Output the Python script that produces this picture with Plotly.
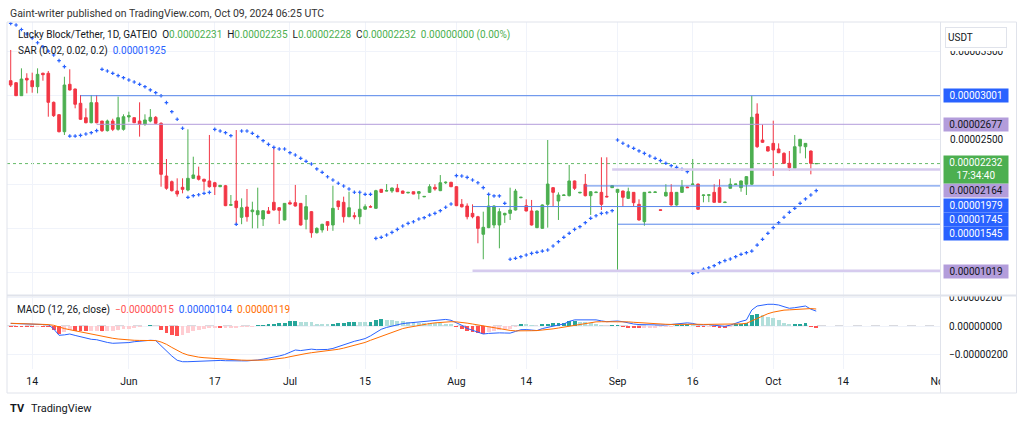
import plotly.graph_objects as go
import pandas as pd

U = 1e-8  # values below are stored in units of 0.00000001 USDT

# ---------------- categories ----------------
MISSING_DAYS = ["2024-08-24", "2024-09-08"]
DATES = [d.strftime("%Y-%m-%d") for d in pd.date_range("2024-05-10", "2024-10-09")
         if d.strftime("%Y-%m-%d") not in MISSING_DAYS]

# ---------------- OHLC (1e-8 USDT) ----------------
OPEN = [3171, 3148, 3001, 3198, 3171, 3103, 3255, 3255, 2926, 2786,
        2593, 3130, 3077, 2915, 2752, 2695, 2922, 2714, 2605, 2714,
        2620, 2620, 2760, 2752, 2714, 2677, 2714, 2756, 2688, 2091,
        2027, 1921, 1963, 1932, 2065, 2091, 2054, 2035, 2015, 1970,
        1981, 1760, 1808, 1623, 1740, 1687, 1653, 1604, 1695, 1793,
        1732, 1593, 1789, 1789, 1781, 1600, 1687, 1449, 1480, 1574,
        1536, 1808, 1793, 1630, 1642, 1630, 1715, 1744, 1725, 1940,
        1921, 1921, 1952, 1921, 1900, 1913, 1895, 1855, 1906, 1963,
        1925, 2015, 2020, 1970, 1770, 1751, 1668, 1630, 1431, 1506,
        1536, 1536, 1650, 1668, 1706, 1845, 1755, 1695, 1506, 1498,
        1770, 1959, 1808, 1870, 1868, 2035, 1900, 1997, 1868, 1903,
        1906, 1861, 1959, 1906, 1921, 1838, 1906, 1770, 1574, 1903,
        1905, 1708, 1865, 1906, 1763, 1906, 1966, 1995, 2000, 1870,
        1872, 1906, 1959, 1790, 1952, 1995, 1959, 1998, 1998, 2794,
        2499, 2423, 2461, 2397, 2348, 2235, 2178, 2430, 2423, 2374,
        2231]
HIGH = [3519, 3156, 3311, 3255, 3262, 3311, 3262, 3281, 2935, 2790,
        3216, 3300, 3080, 3009, 2858, 3009, 3009, 2714, 2730, 2740,
        2990, 2790, 2820, 2755, 2926, 2790, 2850, 2770, 2700, 2284,
        2040, 2065, 2065, 2620, 2310, 2197, 2060, 2556, 2025, 1990,
        1990, 1876, 2612, 1838, 1944, 1800, 1959, 1700, 1740, 2416,
        1740, 1785, 1815, 1990, 1785, 1876, 1695, 1510, 1550, 1574,
        1981, 1810, 1857, 1913, 1680, 1895, 1770, 1760, 1935, 1945,
        2000, 1960, 2000, 1925, 1910, 1913, 1920, 1862, 1998, 1998,
        2102, 2030, 2025, 1975, 1830, 1781, 1770, 1640, 1687, 1887,
        1760, 1725, 1675, 1959, 1945, 1855, 1827, 1820, 1700, 1770,
        2499, 1965, 1906, 1880, 2216, 2040, 1910, 2114, 1920, 1913,
        2303, 2303, 1985, 1945, 1925, 1959, 1910, 1827, 1910, 1913,
        1915, 1710, 1998, 1998, 1910, 2046, 1970, 2284, 2005, 1880,
        1880, 1998, 2054, 1798, 2065, 2003, 2040, 2090, 3001, 2915,
        2677, 2430, 2718, 2461, 2360, 2374, 2556, 2510, 2465, 2380,
        2235]
LOW = [3100, 2998, 2998, 3028, 3035, 3028, 3171, 2763, 2760, 2585,
       2556, 3060, 2858, 2726, 2688, 2688, 2688, 2590, 2595, 2600,
       2605, 2605, 2705, 2690, 2537, 2660, 2700, 2680, 1970, 1935,
       1915, 1857, 1895, 1918, 2060, 2040, 1925, 1960, 1876, 1965,
       1750, 1755, 1544, 1545, 1574, 1498, 1498, 1525, 1660, 1700,
       1547, 1590, 1770, 1745, 1530, 1487, 1392, 1440, 1450, 1470,
       1470, 1706, 1563, 1625, 1600, 1545, 1710, 1735, 1720, 1900,
       1918, 1900, 1910, 1890, 1895, 1885, 1827, 1852, 1900, 1925,
       1920, 2000, 1965, 1750, 1735, 1600, 1612, 1329, 1148, 1500,
       1500, 1272, 1560, 1593, 1700, 1840, 1690, 1530, 1500, 1495,
       1506, 1751, 1593, 1865, 1860, 1933, 1895, 1860, 1650, 1900,
       1706, 1850, 1955, 1019, 1743, 1830, 1743, 1585, 1528, 1900,
       1900, 1700, 1860, 1755, 1755, 1900, 1955, 1995, 1710, 1793,
       1795, 1790, 1790, 1788, 1950, 1993, 1913, 1876, 1990, 2410,
       2465, 2370, 2091, 2350, 2230, 2148, 2170, 2348, 2291, 2110,
       2228]
CLOSE = [3122, 3001, 3190, 3179, 3103, 3243, 3239, 2926, 2775, 2593,
         3122, 3066, 2904, 2734, 2695, 2922, 2695, 2605, 2714, 2620,
         2752, 2763, 2775, 2695, 2677, 2726, 2756, 2688, 2110, 1952,
         1925, 1887, 1940, 2065, 2103, 2054, 2031, 1970, 1970, 1985,
         1755, 1766, 1732, 1732, 1630, 1706, 1698, 1698, 1668, 1706,
         1702, 1781, 1774, 1751, 1536, 1744, 1449, 1498, 1544, 1532,
         1725, 1744, 1630, 1732, 1630, 1715, 1744, 1740, 1925, 1906,
         1925, 1955, 1913, 1895, 1906, 1887, 1913, 1860, 1970, 1944,
         2015, 2020, 1970, 1755, 1742, 1630, 1630, 1498, 1510, 1751,
         1751, 1687, 1668, 1706, 1921, 1850, 1695, 1536, 1695, 1763,
         2000, 1906, 1876, 1876, 2035, 1952, 1906, 1868, 1913, 1908,
         1770, 1855, 1982, 1940, 1850, 1913, 1789, 1593, 1906, 1908,
         1910, 1703, 1906, 1763, 1906, 1970, 1959, 2000, 1714, 1876,
         1878, 1793, 1793, 1795, 1998, 2000, 2035, 2084, 2756, 2423,
         2473, 2374, 2386, 2355, 2235, 2185, 2423, 2507, 2461, 2235,
         2232]

# ---------------- Parabolic SAR (1e-8 USDT) ----------------
SAR = [3820, 3802, 3751, 3700, 3655, 3601, 3556, 3507, 3462, 3398,
       3330, 2544, 2544, 2552, 2567, 2582, 2605, 3300, 3281, 3255,
       3228, 3205, 3179, 3156, 3130, 3103, 3066, 3035, 3001, 2922,
       2820, 2734, 2632, 1850, 1868, 1879, 1895, 1906, 2620, 2601,
       2582, 2548, 1544, 2601, 2601, 2575, 2537, 2491, 2450, 2416,
       2397, 2397, 2355, 2329, 2292, 2258, 2227, 2171, 2133, 2083,
       2046, 2009, 1978, 1944, 1907, 1907, 1884, 1884, 1385, 1397,
       1423, 1453, 1487, 1525, 1555, 1573, 1604, 1619, 1649, 1668,
       1698, 1737, 1774, 2095, 2091, 2076, 2046, 2015, 1959, 1884,
       1865, 1865, 1782, 1148, 1159, 1177, 1196, 1215, 1227, 1241,
       1253, 1298, 1347, 1397, 1442, 1487, 1517, 1562, 1612, 1641,
       1668, 1675, 1698, 2499, 2462, 2431, 2405, 2375, 2348, 2318,
       2292, 2265, 2235, 2208, 2190, 2167, 2140, 989, 1007, 1034,
       1052, 1075, 1109, 1132, 1151, 1177, 1204, 1222, 1241, 1309,
       1374, 1442, 1506, 1562, 1624, 1680, 1725, 1782, 1831, 1876,
       1925]

# ---------------- MACD (1e-8 USDT) ----------------
MACD = [18, 17, 16, 14, 13, 12, 11, 9, -20, -65,
        -62, -56, -66, -75, -88, -93, -96, -108, -115, -121,
        -120, -118, -116, -110, -105, -102, -100, -102, -140, -178,
        -210, -240, -250, -250, -248, -246, -243, -240, -239, -241,
        -243, -245, -245, -244, -244, -243, -238, -232, -226, -218,
        -210, -200, -183, -168, -172, -167, -162, -166, -167, -164,
        -157, -144, -131, -119, -107, -98, -88, -69, -46, -23,
        -10, 0, 10, 17, 21, 25, 29, 34, 39, 43,
        47, 46, 40, 25, 5, -17, -30, -44, -56, -52,
        -48, -48, -49, -50, -38, -26, -25, -30, -32, -18,
        -8, 0, 7, 14, 32, 43, 44, 46, 47, 43,
        36, 30, 33, 35, 30, 20, 14, 10, 8, 7,
        7, 7, 7, 10, 14, 17, 22, 18, 9, 8,
        10, 5, 2, -2, 6, 21, 32, 42, 112, 140,
        147, 152, 152, 147, 135, 124, 128, 135, 140, 118,
        104]
SIGNAL = [19, 18, 17, 16, 15, 13, 12, 10, 5, -8,
          -18, -26, -34, -42, -50, -57, -63, -71, -79, -86,
          -91, -95, -98, -100, -101, -102, -102, -102, -112, -128,
          -150, -172, -190, -203, -212, -218, -222, -225, -227, -229,
          -232, -235, -237, -239, -240, -241, -241, -239, -237, -233,
          -229, -223, -215, -206, -200, -193, -187, -183, -179, -176,
          -172, -163, -155, -146, -136, -125, -115, -100, -86, -70,
          -55, -41, -28, -18, -10, -2, 5, 11, 17, 22,
          26, 29, 30, 29, 26, 20, 14, 7, 0, -8,
          -15, -22, -27, -31, -34, -35, -34, -33, -32, -29,
          -25, -20, -14, -8, -1, 8, 15, 21, 26, 29,
          30, 30, 31, 32, 31, 29, 26, 23, 20, 17,
          15, 13, 12, 11, 12, 13, 14, 15, 12, 11,
          11, 11, 11, 10, 10, 12, 15, 19, 35, 55,
          72, 86, 97, 106, 111, 113, 116, 119, 122, 122,
          119]
HIST = [-1, -1, -1, -2, -2, -1, -1, -1, -25, -57,
        -44, -30, -32, -33, -38, -36, -33, -37, -36, -35,
        -29, -23, -18, -10, -4, 0, 2, 0, -28, -50,
        -60, -68, -60, -47, -36, -28, -21, -15, -12, -12,
        -11, -10, -8, -5, -4, -2, 3, 7, 11, 15,
        19, 23, 32, 38, 28, 26, 25, 17, 12, 12,
        15, 19, 24, 27, 29, 27, 27, 31, 40, 47,
        45, 41, 38, 35, 31, 27, 24, 23, 22, 21,
        21, 17, 10, -4, -21, -37, -44, -51, -56, -44,
        -33, -26, -22, -19, -4, 9, 9, 3, 0, 11,
        17, 20, 21, 22, 33, 35, 29, 25, 21, 14,
        6, 0, 2, 3, -1, -9, -12, -13, -12, -10,
        -8, -6, -5, -1, 2, 4, 8, 3, -3, -3,
        -1, -6, -9, -12, -4, 9, 17, 23, 77, 85,
        75, 66, 55, 41, 24, 11, 12, 16, 18, -4,
        -15]

# ---------------- horizontal levels drawn on the chart ----------------
LEVELS = [3001, 2677, 2164, 1979, 1745, 1545, 1019]
LEVEL_FROM = ["2024-05-23", "2024-05-26", "2024-08-31", "2024-08-26",
              "2024-08-04", "2024-09-01", "2024-08-04"]
LEVEL_KIND = ["blue", "purple", "soft", "blue", "blue", "blue", "soft"]

# ---------------- time axis ticks ----------------
TICK_DATES = ["2024-05-14", "2024-06-01", "2024-06-17", "2024-07-01", "2024-07-15",
              "2024-08-01", "2024-08-14", "2024-09-01", "2024-09-16", "2024-10-01",
              "2024-10-14", "2024-11-01"]
TICK_TEXT = ["14", "Jun", "17", "Jul", "15", "Aug", "14", "Sep", "16", "Oct", "14", "Nov"]

PRICE_GRID = [1000, 1500, 2000, 2500, 3000, 3500]
PRICE_TICK_LABELS = [2500, 3500]          # the others sit under the coloured labels
MACD_TICKS = [-200, 0, 200]

# ---------------- styling ----------------
FONT = "Roboto"
TXT = "#131722"
GRID = "#f0f3fa"
GREEN = "#4CAF50"
RED = "#F23645"
BLUE = "#2962FF"
ORANGE = "#FF6D00"
LINE_BLUE = "#5585ea"
LINE_PURPLE = "#b39ddb"
LINE_SOFT = "#d6cbee"
LABEL_PURPLE = "#b39ddb"

W, H = 1024, 424
PL, PR, PT, PB = 7, 940, 22, 369
MAIN_BOTTOM_PX, SUB_TOP_PX = 295, 296


def px(x):
    return (x - PL) / (PR - PL)


def py(y):
    return (PB - y) / (PB - PT)


BAR = list(range(len(DATES)))
last_day = pd.Timestamp(DATES[-1])


def pos(d):
    if d in DATES:
        return DATES.index(d)
    return len(DATES) - 1 + (pd.Timestamp(d) - last_day).days


XR = [-0.69, 173.05]
TICK_POS = [pos(d) for d in TICK_DATES]


def sc(a):
    return [v * U for v in a]


def fmt(v):
    s = f"{abs(v) * U:.8f}"
    return ("\u2212" + s) if v < 0 else s


fig = go.Figure()

fig.add_trace(go.Candlestick(
    x=BAR, open=sc(OPEN), high=sc(HIGH), low=sc(LOW), close=sc(CLOSE),
    xaxis="x", yaxis="y", whiskerwidth=0,
    increasing=dict(line=dict(color=GREEN, width=1), fillcolor=GREEN),
    decreasing=dict(line=dict(color=RED, width=1), fillcolor=RED),
    showlegend=False, hoverinfo="skip"))

fig.add_trace(go.Scatter(
    x=BAR, y=sc(SAR), mode="markers", xaxis="x", yaxis="y",
    marker=dict(symbol="cross", size=3, color=BLUE, line=dict(width=0)),
    showlegend=False, hoverinfo="skip"))

# MACD pane
hist_colors = []
prev = None
for v in HIST:
    if v >= 0:
        hist_colors.append("#26A69A" if (prev is None or v > prev) else "#B2DFDB")
    else:
        hist_colors.append("#FFCDD2" if (prev is not None and v > prev) else "#FF5252")
    prev = v

fig.add_trace(go.Bar(x=BAR, y=sc(HIST), xaxis="x2", yaxis="y2", width=0.72,
                     marker=dict(color=hist_colors, line=dict(width=0)),
                     showlegend=False, hoverinfo="skip"))
fig.add_trace(go.Scatter(x=BAR, y=sc(MACD), mode="lines", xaxis="x2", yaxis="y2",
                         line=dict(color=BLUE, width=1), showlegend=False, hoverinfo="skip"))
fig.add_trace(go.Scatter(x=BAR, y=sc(SIGNAL), mode="lines", xaxis="x2", yaxis="y2",
                         line=dict(color=ORANGE, width=1), showlegend=False, hoverinfo="skip"))

shapes = []
# level rays
for lv, frm, kind in zip(LEVELS, LEVEL_FROM, LEVEL_KIND):
    col = {"blue": LINE_BLUE, "purple": LINE_PURPLE, "soft": LINE_SOFT}[kind]
    wd = 2.5 if kind == "soft" else 1
    shapes.append(dict(type="line", xref="x", yref="y", x0=pos(frm), x1=XR[1],
                       y0=lv * U, y1=lv * U, line=dict(color=col, width=wd), layer="above"))
# last price dotted line
shapes.append(dict(type="line", xref="paper", yref="y", x0=0, x1=1,
                   y0=CLOSE[-1] * U, y1=CLOSE[-1] * U,
                   line=dict(color="#66bb6a", width=1, dash="dot"), layer="below"))
# MACD zero line
shapes.append(dict(type="line", xref="paper", yref="y2", x0=0, x1=1, y0=0, y1=0,
                   line=dict(color="#b2b5be", width=1, dash="dash"), layer="below"))
# covers in the price-scale column
shapes.append(dict(type="rect", xref="paper", yref="paper", x0=px(940.5), x1=px(1016),
                   y0=py(392), y1=py(370), fillcolor="white", line=dict(width=0), layer="above"))
shapes.append(dict(type="rect", xref="paper", yref="paper", x0=px(940.5), x1=px(1016),
                   y0=py(295.5), y1=py(284), fillcolor="white", line=dict(width=0), layer="above"))
shapes.append(dict(type="rect", xref="paper", yref="paper", x0=px(940.5), x1=px(1016),
                   y0=py(51), y1=py(23), fillcolor="white", line=dict(width=0), layer="above"))
# frame and separators
shapes.append(dict(type="rect", xref="paper", yref="paper", x0=px(7), x1=px(1016.5),
                   y0=py(393), y1=py(22), line=dict(color="#e0e3eb", width=1), layer="above"))
shapes.append(dict(type="line", xref="paper", yref="paper", x0=px(7), x1=px(1016.5),
                   y0=py(295.5), y1=py(295.5), line=dict(color="#e0e3eb", width=2), layer="above"))
shapes.append(dict(type="line", xref="paper", yref="paper", x0=px(940.5), x1=px(940.5),
                   y0=py(393), y1=py(22), line=dict(color="#e0e3eb", width=1), layer="above"))


def col(t, c):
    return f'<span style="color:{c}">{t}</span>'


SP = "&nbsp;&nbsp;"
leg1 = ("Lucky Block/Tether, 1D, GATEIO" + SP +
        "O" + col(fmt(OPEN[-1]), GREEN) + SP +
        "H" + col(fmt(HIGH[-1]), GREEN) + SP +
        "L" + col(fmt(LOW[-1]), GREEN) + SP +
        "C" + col(fmt(CLOSE[-1]), GREEN) + SP +
        col("0.00000000 (0.00%)", GREEN))
leg2 = "SAR (0.02, 0.02, 0.2)" + SP + col(fmt(SAR[-1]), BLUE)
leg3 = ("MACD (12, 26, close)" + SP + col(fmt(HIST[-1]), "#FF5252") + SP +
        col(fmt(MACD[-1]), BLUE) + SP + col(fmt(SIGNAL[-1]), ORANGE))

ann = []


def text(x, y, t, size=10, color=TXT, anchor="left"):
    ann.append(dict(xref="paper", yref="paper", x=px(x), y=py(y), text=t, showarrow=False,
                    xanchor=anchor, yanchor="middle", font=dict(family=FONT, size=size, color=color)))


text(8, 13.3, "Gaint-writer published on TradingView.com, Oct 09, 2024 06:25 UTC", size=10.5, color="#333333")
text(15.5, 35, leg1)
text(15.5, 51, leg2)
text(14.5, 310, leg3)

# USDT box
ann.append(dict(xref="paper", yref="paper", x=px(945), y=py(37.8), text="USDT", showarrow=False,
                xanchor="left", yanchor="middle", width=56, height=15, align="left", borderpad=2,
                bgcolor="white", bordercolor="#e0e3eb", borderwidth=1,
                font=dict(family=FONT, size=10, color=TXT)))

# price-scale labels for the levels and the last price
PRICE_LABELS = [
    (3001, BLUE, "white", 0),
    (2677, LABEL_PURPLE, TXT, 0),
    (2164, LABEL_PURPLE, TXT, -21.4),
    (1979, BLUE, "white", -19.4),
    (1745, BLUE, "white", -12.7),
    (1545, BLUE, "white", -9.1),
    (1019, LABEL_PURPLE, TXT, -1),
]
for v, bg, fg, sh in PRICE_LABELS:
    ann.append(dict(xref="paper", yref="y", x=px(942.7), y=v * U, yshift=sh, text=fmt(v),
                    showarrow=False, xanchor="left", yanchor="middle", width=62, height=11.3,
                    borderpad=1, align="center", bgcolor=bg,
                    font=dict(family=FONT, size=10, color=fg)))
ann.append(dict(xref="paper", yref="y", x=px(942.7), y=CLOSE[-1] * U, yshift=-6.4,
                text=fmt(CLOSE[-1]) + "<br>17:34:40", showarrow=False, xanchor="left",
                yanchor="middle", width=62, height=24.7, borderpad=1, align="center",
                bgcolor=GREEN, font=dict(family=FONT, size=10, color="white")))

# TradingView footer
text(8, 408.5, "<b>TV</b>", size=11, color=TXT)
text(28.5, 408.5, "TradingView", size=11, color=TXT)

fig.update_layout(
    width=W, height=H,
    margin=dict(l=PL, r=W - PR, t=PT, b=H - PB, pad=0),
    paper_bgcolor="white", plot_bgcolor="white", showlegend=False,
    font=dict(family=FONT, size=10, color=TXT),
    bargap=0,
    xaxis=dict(domain=[0, 1], anchor="y", range=XR, tickvals=TICK_POS, ticktext=TICK_TEXT,
               showticklabels=False, showgrid=True, gridcolor=GRID, zeroline=False,
               showline=False, ticks="", rangeslider=dict(visible=False), fixedrange=True),
    xaxis2=dict(domain=[0, 1], anchor="y2", range=XR, tickvals=TICK_POS, ticktext=TICK_TEXT,
                showgrid=True, gridcolor=GRID, zeroline=False, showline=False, ticks="",
                ticklabelstandoff=4, tickfont=dict(family=FONT, size=10.5, color=TXT)),
    yaxis=dict(domain=[py(MAIN_BOTTOM_PX), 1], range=[743 * U, 3836 * U], side="right",
               tickvals=sc(PRICE_GRID),
               ticktext=[fmt(v) if v in PRICE_TICK_LABELS else "" for v in PRICE_GRID],
               showgrid=True, gridcolor=GRID, zeroline=False, ticks="", automargin=False,
               ticklabelstandoff=9, tickfont=dict(family=FONT, size=10, color=TXT)),
    yaxis2=dict(domain=[0, py(SUB_TOP_PX)], range=[-301 * U, 210 * U], side="right",
                tickvals=sc(MACD_TICKS), ticktext=[fmt(v) for v in MACD_TICKS],
                showgrid=True, gridcolor=GRID, zeroline=False, ticks="", automargin=False,
                ticklabelstandoff=8, tickfont=dict(family=FONT, size=10, color=TXT)),
    shapes=shapes, annotations=ann,
)

fig.write_html("out.html", config={"displayModeBar": False},
               post_script="document.body.style.margin='0';document.body.style.padding='0';")
